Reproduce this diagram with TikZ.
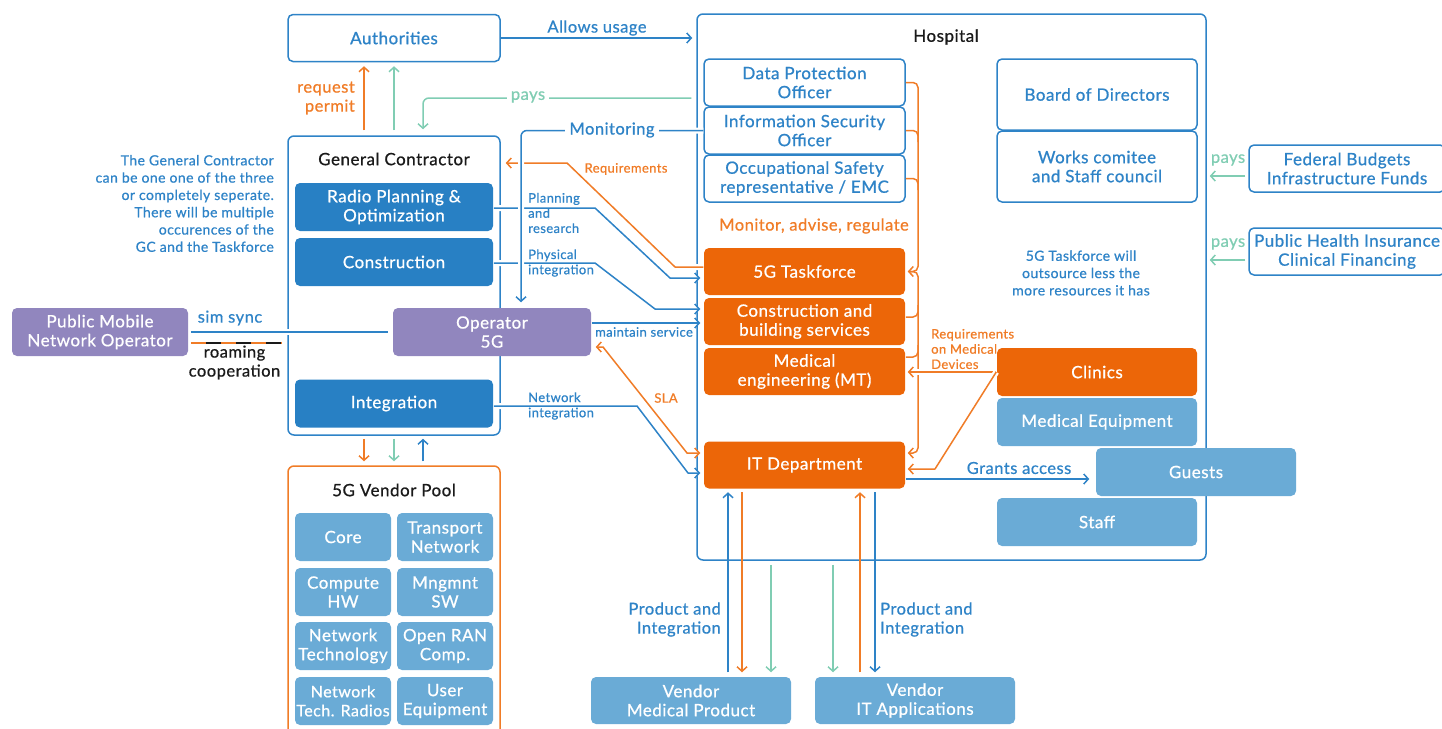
\documentclass[tikz,border=0pt]{standalone}
\usepackage{fontspec}
\setmainfont{Lato}[FakeBold=0.7, LetterSpace=3]
\usetikzlibrary{arrows.meta}
\definecolor{cblue}{HTML}{2E83C7}
\definecolor{cdblue}{HTML}{2880C4}
\definecolor{clblue}{HTML}{6AABD6}
\definecolor{corange}{HTML}{EC6608}
\definecolor{coline}{HTML}{F07C27}
\definecolor{cpurple}{HTML}{9186BE}
\definecolor{cteal}{HTML}{80CDB3}
\definecolor{ctext}{HTML}{1A1A1A}
\newcommand{\fmain}{\fontsize{17}{19}\selectfont}
\newcommand{\fmid}{\fontsize{16.5}{19}\selectfont}
\newcommand{\fsmall}{\fontsize{13}{15.2}\selectfont}
\newcommand{\fnote}{\fontsize{14}{17.3}\selectfont}
\tikzset{
  wh/.style 2 args={minimum width=#1pt, minimum height=#2pt},
  boxbase/.style={rectangle, rounded corners=5pt, inner sep=0pt, align=center, font=\fmain, line width=1.5pt},
  wbox/.style={boxbase, draw=cblue, fill=white, text=cblue},
  dbox/.style={boxbase, fill=cdblue, text=white},
  lbox/.style={boxbase, fill=clblue, text=white},
  obox/.style={boxbase, fill=corange, text=white},
  pbox/.style={boxbase, fill=cpurple, text=white},
  cframe/.style={rectangle, rounded corners=6pt, line width=1.5pt, inner sep=0pt},
  ftitle/.style={font=\fmain, text=ctext},
  lnbase/.style={line width=1.5pt, line join=round},
  lblue/.style={lnbase, draw=cblue},
  lor/.style={lnbase, draw=coline},
  lteal/.style={lnbase, draw=cteal},
  arr/.style={-{Straight Barb[length=4.5pt,width=10pt]}},
  arrs/.style={{Straight Barb[length=4.5pt,width=10pt]}-{Straight Barb[length=4.5pt,width=10pt]}},
  halo/.style={preaction={draw=white, line width=6pt, -}},
  lab/.style={inner sep=1pt, align=center},
}
\begin{document}
\begin{tikzpicture}[x=1pt, y=-1pt]
\clip (0,0) rectangle (1442,728);

% containers
\node[cframe, draw=cblue, wh={509}{546}] (hosp) at (951.5,287) {};
\node[cframe, draw=cblue, wh={212}{299}] (gc) at (394,285.5) {};
\node[cframe, draw=coline, wh={212}{290}] (vp) at (394,611) {};
\node[ftitle] (hosptitle) at (946,37) {Hospital};
\node[ftitle] (gctitle) at (394,159) {General Contractor};
\node[ftitle] (vptitle) at (394,490) {5G Vendor Pool};

% authorities and general contractor
\node[wbox, wh={212}{47}] (auth) at (394,38) {Authorities};
\node[dbox, wh={198}{48}] (rpo) at (394,207) {Radio Planning \&\\Optimization};
\node[dbox, wh={198}{48}] (cons) at (394,262) {Construction};
\node[dbox, wh={198}{48}] (integ) at (394,403.5) {Integration};
\node[pbox, wh={198}{48}] (op) at (492,332) {Operator\\5G};
\node[pbox, wh={176}{48}] (pmno) at (100,332) {Public Mobile\\Network Operator};

% vendor pool
\node[lbox, wh={96}{48}] (vcore) at (343,537) {Core};
\node[lbox, wh={96}{48}] (vtrans) at (445,537) {Transport\\Network};
\node[lbox, wh={96}{48}] (vcomp) at (343,592) {Compute\\HW};
\node[lbox, wh={96}{48}] (vmgmt) at (445,592) {Mngmnt\\SW};
\node[lbox, wh={96}{48}] (vnet) at (343,646) {Network\\Technology};
\node[lbox, wh={96}{48}] (vran) at (445,646) {Open RAN\\Comp.};
\node[lbox, wh={96}{48}, font=\fontsize{16}{19}\selectfont] (vrad) at (343,701) {Network\\Tech. Radios};
\node[lbox, wh={96}{48}] (vue) at (445,701) {User\\Equipment};

% hospital internals
\node[wbox, wh={201}{47}] (dpo) at (804.5,82.5) {Data Protection\\Officer};
\node[wbox, wh={201}{47}] (iso) at (804.5,130.5) {Information Security\\Officer};
\node[wbox, wh={201}{47}] (osr) at (804.5,178.5) {Occupational Safety\\representative / EMC};
\node[obox, wh={201}{47}] (tf) at (804.5,271.5) {5G Taskforce};
\node[obox, wh={201}{47}] (cbs) at (804.5,321.5) {Construction and\\building services};
\node[obox, wh={201}{47}] (mt) at (804.5,371.5) {Medical\\engineering (MT)};
\node[obox, wh={201}{47}] (it) at (804.5,465) {IT Department};
\node[wbox, wh={200}{71}] (bod) at (1097,94.5) {Board of Directors};
\node[wbox, wh={200}{71}] (works) at (1097,166.5) {Works comitee\\and Staff council};
\node[obox, wh={200}{48}] (clin) at (1097,372) {Clinics};
\node[lbox, wh={200}{48}] (meq) at (1097,422) {Medical Equipment};
\node[lbox, wh={200}{48}] (gu) at (1196,472) {Guests};
\node[lbox, wh={200}{48}] (staff) at (1097,522) {Staff};

% funding
\node[wbox, wh={196}{47}] (fed) at (1347,168.5) {Federal Budgets\\Infrastructure Funds};
\node[wbox, wh={196}{47}] (phi) at (1347,251.5) {Public Health Insurance\\Clinical Financing};

% external vendors
\node[lbox, wh={200}{47}] (vmp) at (691,700.5) {Vendor\\Medical Product};
\node[lbox, wh={200}{47}] (vita) at (915,700.5) {Vendor\\IT Applications};

\coordinate (rcend) at (282,343);

% authorities links
\draw[lblue, arr, shorten >=4pt] (auth.east) -- (hosp.west |- auth.east);
\draw[lor, arr, shorten <=5pt, shorten >=4pt] (gc.north -| 364,0) -- (auth.south -| 364,0);
\draw[lteal, arr, shorten <=5pt, shorten >=4pt] (gc.north) -- (auth.south);
\draw[lteal, arr, rounded corners=6pt, shorten <=5pt, shorten >=6pt] (hosp.west |- 0,98) -- (423,98) -- (gc.north -| 423,0);

% operator links
\draw[lblue, halo, shorten <=2pt, shorten >=4pt] (pmno.east) -- (op.west);
\draw[lor] (pmno.east |- rcend) ++(2,0) -- (rcend);
\draw[line width=1.5pt, draw=ctext, dash pattern=on 15pt off 15pt, dash phase=15pt] (pmno.east |- rcend) ++(2,0) -- (rcend);

% general contractor to hospital
\draw[lor, arr, halo, shorten >=5pt] (tf.west |- 0,267) -- (675,267) -- (567,163) -- (gc.east |- 0,163);
\draw[lblue, arr, halo, shorten >=3pt] (rpo.east |- 0,208) -- (595,208) -- (670,278) -- (tf.west |- 0,278);
\draw[lblue, arr, halo, shorten >=3pt] (cons.east |- 0,263) -- (595,263) -- (655,309) -- (cbs.west |- 0,309);
\draw[lblue, arr, halo, shorten >=3pt] (integ.east |- 0,406) -- (637,406) -- (688,473) -- (it.west |- 0,473);
\draw[lblue, arr, halo, shorten >=3pt] (op.east |- 0,323) -- (cbs.west |- 0,323);
\draw[lor, arrs, halo, shorten <=4pt, shorten >=3pt] (op.east |- 0,347) -- (603,347) -- (687,453) -- (it.west |- 0,453);
\draw[lblue, arr, halo, rounded corners=6pt, shorten >=5pt] (iso.west) -- (521,130.5) -- (op.north -| 521,0);

% general contractor and vendor pool
\draw[lor, arr, shorten <=3pt, shorten >=4pt] (gc.south -| 364,0) -- (vp.north -| 364,0);
\draw[lteal, arr, shorten <=3pt, shorten >=4pt] (gc.south) -- (vp.north);
\draw[lblue, arr, shorten <=4pt, shorten >=3pt] (vp.north -| 423,0) -- (gc.south -| 423,0);

% oversight braces
\draw[lor, arr, rounded corners=5pt, shorten >=2pt] (dpo.east) -- (918,82.5) -- (918,271.5) -- (tf.east);
\draw[lor, rounded corners=5pt] (iso.east) -- (918,130.5) -- (918,142);
\draw[lor, rounded corners=5pt] (osr.east) -- (918,178.5) -- (918,190);
\draw[lor, arr, rounded corners=5pt, shorten >=2pt] ([xshift=3pt]tf.east) -- (918,271.5) -- (918,453) -- (it.east |- 0,453);
\draw[lor, rounded corners=5pt] (cbs.east |- 0,317) -- (918,317) -- (918,305);
\draw[lor, rounded corners=5pt] (mt.east |- 0,357) -- (918,357) -- (918,345);

% clinics and access
\draw[lor, arr, halo, shorten >=2pt] (clin.west) -- (mt.east |- clin.west);
\draw[lor, arr, halo, shorten >=2pt] (clin.west) -- (935,469) -- (it.east |- 0,469);
\draw[lblue, arr, shorten >=6pt] (it.east |- 0,479) -- (gu.west |- 0,479);

% funding flows
\draw[lteal, arr, shorten <=3pt, shorten >=3pt] (fed.west |- 0,176) -- (hosp.east |- 0,176);
\draw[lteal, arr, shorten <=3pt, shorten >=3pt] (phi.west |- 0,260) -- (hosp.east |- 0,260);

% product vendors
\draw[lblue, arr, shorten <=4pt, shorten >=3pt] (vmp.north -| 728,0) -- (it.south -| 728,0);
\draw[lor, arr, shorten <=3pt, shorten >=4pt] (it.south -| 742,0) -- (vmp.north -| 742,0);
\draw[lteal, arr, shorten <=4pt, shorten >=4pt] (hosp.south -| 771,0) -- (vmp.north -| 771,0);
\draw[lteal, arr, shorten <=4pt, shorten >=4pt] (hosp.south -| 833,0) -- (vita.north -| 833,0);
\draw[lor, arr, shorten <=4pt, shorten >=3pt] (vita.north -| 860,0) -- (it.south -| 860,0);
\draw[lblue, arr, shorten <=3pt, shorten >=4pt] (it.south -| 875,0) -- (vita.north -| 875,0);

% labels
\node[lab, font=\fnote, text=cblue, anchor=east, align=right] (note) at (275,203.5) {The General Contractor\\can be one one of the three\\or completely seperate.\\There will be multiple\\occurences of the\\GC and the Taskforce};
\node[lab, font=\fmid, text=coline, anchor=east, align=right] (lreq) at (356,98) {request\\permit};
\node[lab, font=\fmid, text=cblue] (lallow) at (597,28) {Allows usage};
\node[lab, font=\fmid, text=cteal, fill=white, inner sep=4pt] (lpays) at (528,97) {pays};
\node[lab, font=\fmid, text=cblue, fill=white, inner sep=4pt] (lmon) at (612,130) {Monitoring};
\node[lab, font=\fsmall, text=coline] (lreqs) at (626,169) {Requirements};
\node[lab, font=\fsmall, text=cblue, anchor=west, align=left] (lplan) at (527,213) {Planning\\and\\research};
\node[lab, font=\fsmall, text=cblue, anchor=west, align=left] (lphys) at (527,263) {Physical\\integration};
\node[lab, font=\fsmall, text=cblue] (lmaint) at (644,332) {maintain service};
\node[lab, font=\fsmall, text=coline] (lsla) at (666,398) {SLA};
\node[lab, font=\fsmall, text=cblue, anchor=west, align=left] (lnet) at (527,406) {Network\\integration};
\node[lab, font=\fmid, text=cblue] (lsim) at (230,318) {sim sync};
\node[lab, font=\fmid, text=ctext] (lroam) at (234.5,362.5) {roaming\\cooperation};
\node[lab, font=\fmid, text=coline] (lmar) at (814,226) {Monitor, advise, regulate};
\node[lab, font=\fnote, text=cblue] (ltfnote) at (1081,273) {5G Taskforce will\\outsource less the\\more resources it has};
\node[lab, font=\fsmall, text=coline, anchor=west, align=left] (lrmd) at (930,349) {Requirements\\on Medical\\Devices};
\node[lab, font=\fmid, text=cblue] (lgrant) at (1019,468) {Grants access};
\node[lab, font=\fmid, text=cteal] (lpays2) at (1228,160) {pays};
\node[lab, font=\fmid, text=cteal] (lpays3) at (1228,244) {pays};
\node[lab, font=\fmid, text=cblue, anchor=east, align=right] (lpi1) at (722,619.5) {Product and\\Integration};
\node[lab, font=\fmid, text=cblue, anchor=west, align=left] (lpi2) at (879,619.5) {Product and\\Integration};
\end{tikzpicture}
\end{document}
